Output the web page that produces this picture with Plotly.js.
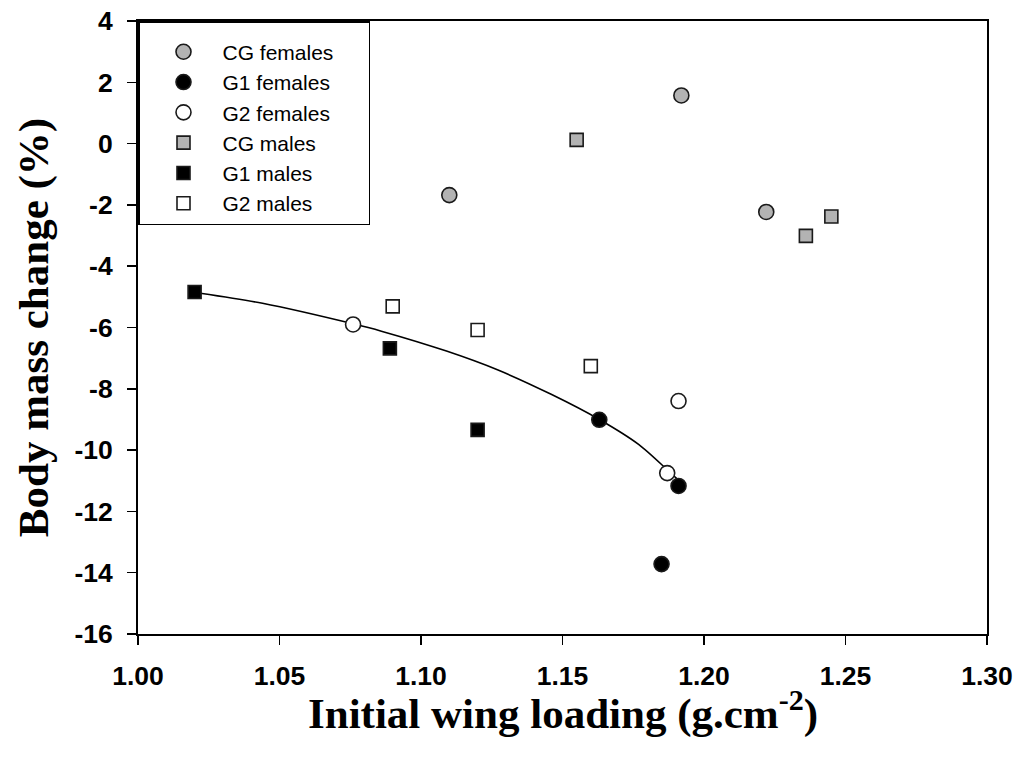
<!DOCTYPE html>
<html>
<head>
<meta charset="utf-8">
<script src="https://cdn.plot.ly/plotly-3.0.1.min.js"></script>
<style>html,body{margin:0;padding:0;background:#fff;}#chart{width:1022px;height:758px;}</style>
</head>
<body>
<div id="chart"></div>
<script>
// Data
const seriesNames = ["CG females", "G1 females", "G2 females", "CG males", "G1 males", "G2 males"];
const cgFemalesX = [1.110, 1.192, 1.222];
const cgFemalesY = [-1.68, 1.57, -2.23];
const g1FemalesX = [1.163, 1.191, 1.185];
const g1FemalesY = [-9.01, -11.17, -13.72];
const g2FemalesX = [1.076, 1.191, 1.187];
const g2FemalesY = [-5.90, -8.40, -10.75];
const cgMalesX = [1.155, 1.236, 1.245];
const cgMalesY = [0.12, -3.01, -2.38];
const g1MalesX = [1.020, 1.089, 1.120];
const g1MalesY = [-4.84, -6.68, -9.34];
const g2MalesX = [1.090, 1.120, 1.160];
const g2MalesY = [-5.31, -6.08, -7.26];
// fitted curve, points
const fitX = [1.022, 1.044, 1.076, 1.086, 1.109, 1.127, 1.146, 1.163, 1.177, 1.187, 1.1905];
const fitY = [-4.88, -5.21, -5.88, -6.12, -6.77, -7.38, -8.18, -9.00, -9.82, -10.64, -10.94];
const xTicks = [1.00, 1.05, 1.10, 1.15, 1.20, 1.25, 1.30];
const xTickText = ["1.00", "1.05", "1.10", "1.15", "1.20", "1.25", "1.30"];
const yTicks = [4, 2, 0, -2, -4, -6, -8, -10, -12, -14, -16];
const yTickText = ["4", "2", "0", "-2", "-4", "-6", "-8", "-10", "-12", "-14", "-16"];
const xTitle = 'Initial wing loading (g.cm<sup>-2</sup>)';
const yTitle = 'Body mass change (%)';

const edge = '#1a1a1a';
const gray = '#b3b3b3';
const namePad = '\u00a0\u00a0\u00a0\u00a0\u00a0';
function pts(name, x, y, symbol, fill, size) {
  return {
    type: 'scatter', mode: 'markers', name: name, x: x, y: y,
    marker: {symbol: symbol, size: size, color: fill, line: {color: edge, width: 1.6}},
    cliponaxis: false
  };
}
const traces = [
  {type: 'scatter', mode: 'lines', x: fitX, y: fitY, showlegend: false,
   line: {color: '#000', width: 1.6, shape: 'spline', smoothing: 0.8}, hoverinfo: 'skip'},
  pts(seriesNames[0] + namePad, cgFemalesX, cgFemalesY, 'circle', gray, 15),
  pts(seriesNames[1], g1FemalesX, g1FemalesY, 'circle', '#000', 15),
  pts(seriesNames[2], g2FemalesX, g2FemalesY, 'circle', '#fff', 15),
  pts(seriesNames[3], cgMalesX, cgMalesY, 'square', gray, 13),
  pts(seriesNames[4], g1MalesX, g1MalesY, 'square', '#000', 13),
  pts(seriesNames[5], g2MalesX, g2MalesY, 'square', '#fff', 13)
];

const tickFont = {family: 'Liberation Sans, Arial, sans-serif', size: 26.5, weight: 'bold', color: '#000'};
const titleFont = {family: 'Liberation Serif, Times New Roman, serif', size: 43, weight: 'bold', color: '#000'};

const layout = {
  width: 1022, height: 758,
  margin: {l: 138, r: 35, t: 21, b: 124, pad: 0},
  paper_bgcolor: '#fff', plot_bgcolor: '#fff',
  showlegend: true,
  legend: {
    x: 0, y: 1, xanchor: 'left', yanchor: 'top',
    bgcolor: '#fff', bordercolor: '#000', borderwidth: 1.5,
    font: {family: 'Liberation Sans, Arial, sans-serif', size: 21, color: '#000'},
    title: {text: ' ', font: {size: 7}},
    itemwidth: 68, indentation: 5, tracegroupgap: 0
  },
  xaxis: {
    range: [1.0, 1.3], tickvals: xTicks, ticktext: xTickText,
    showgrid: false, zeroline: false, automargin: false,
    showline: true, linecolor: '#000', linewidth: 2, mirror: true,
    ticks: 'outside', ticklen: 9, tickwidth: 1.5, tickcolor: '#000',
    ticklabelstandoff: 8,
    tickfont: tickFont
  },
  yaxis: {
    range: [-16, 4], tickvals: yTicks, ticktext: yTickText,
    showgrid: false, zeroline: false, automargin: 'left',
    showline: true, linecolor: '#000', linewidth: 2, mirror: true,
    ticks: 'outside', ticklen: 9, tickwidth: 1.5, tickcolor: '#000',
    ticklabelstandoff: 9,
    tickfont: tickFont,
    title: {text: yTitle, font: titleFont, standoff: 12}
  },
  annotations: [{
    text: xTitle, xref: 'paper', yref: 'paper', x: 0.5, y: -0.125,
    xanchor: 'center', yanchor: 'middle', showarrow: false, font: titleFont
  }]
};

Plotly.newPlot('chart', traces, layout, {staticPlot: true, displayModeBar: false});
</script>
</body>
</html>
